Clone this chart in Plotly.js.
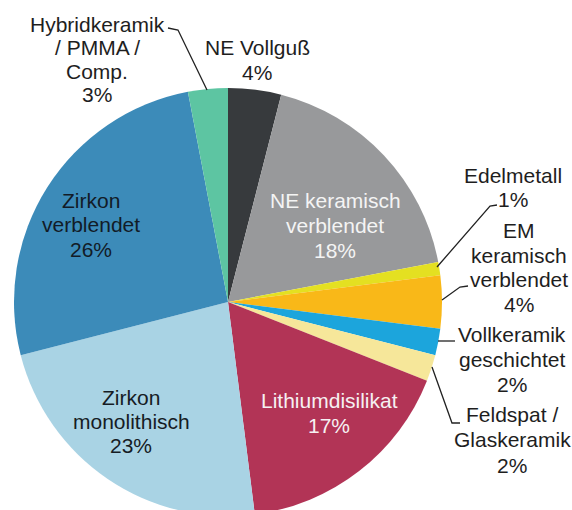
<!DOCTYPE html>
<html>
<head>
<meta charset="utf-8">
<script src="https://cdn.plot.ly/plotly-3.0.1.min.js"></script>
<style>
html,body{margin:0;padding:0;background:#fff;overflow:hidden;}
#chart{width:572px;height:520px;}
</style>
</head>
<body>
<div id="chart"></div>
<script>
// ---- data ----
var categories = [
  "NE Vollguß",
  "NE keramisch<br>verblendet",
  "Edelmetall",
  "EM<br>keramisch<br>verblendet",
  "Vollkeramik<br>geschichtet",
  "Feldspat /<br>Glaskeramik",
  "Lithiumdisilikat",
  "Zirkon<br>monolithisch",
  "Zirkon<br>verblendet",
  "Hybridkeramik<br>/ PMMA /<br>Comp."
];
var shares = [4, 18, 1, 4, 2, 2, 17, 23, 26, 3];
var sliceColors = ["#373a3d", "#98999b", "#e4e021", "#f9b818", "#1ca5dc",
                   "#f6e79a", "#b23456", "#a9d3e4", "#3c8bb9", "#5dc5a2"];

// ---- layout helpers (pixel -> paper) ----
var W = 572, H = 520;
function px(x){ return x / W; }
function py(y){ return 1 - y / H; }

// label placement: centre x, first baseline y, line step (pixels)
var labelX     = [257, 335, 513, 519, 512, 512, 329, 131, 91, 97];
var labelBase  = [55, 208, 183, 238, 342, 422, 408, 405, 208, 32];
var labelStep  = [25, 25, 24, 24.7, 25, 25.5, 25, 24, 24.5, 23.3];
var labelColor = ["#1e1e1e", "#f4f4f4", "#1e1e1e", "#1e1e1e", "#1e1e1e",
                  "#1e1e1e", "#f6f0f2", "#161c24", "#121b27", "#1e1e1e"];
var FS = 21;

var annotations = [];
categories.forEach(function(c, i){
  var lines = c.split("<br>").concat([shares[i] + "%"]);
  lines.forEach(function(t, k){
    var base = labelBase[i] + k * labelStep[i];
    annotations.push({
      xref: "paper", yref: "paper",
      x: px(labelX[i]), y: py(base - 0.36 * FS),
      xanchor: "center", yanchor: "middle",
      text: t, showarrow: false,
      font: {family: "Liberation Sans, Arial, sans-serif", size: FS, color: labelColor[i]}
    });
  });
});

// leader lines (pixel paths)
var leaders = [
  [[168, 28], [178, 30], [207, 90]],          // Hybridkeramik
  [[497, 205], [490, 206], [437, 267]],       // Edelmetall
  [[468, 286], [460, 287], [442, 300]],       // EM keramisch
  [[438, 341], [455, 341]],                   // Vollkeramik
  [[432, 367], [452, 423], [460, 423]]        // Feldspat
];
var shapes = leaders.map(function(pts){
  var d = pts.map(function(p, k){
    return (k === 0 ? "M" : "L") + px(p[0]) + "," + py(p[1]);
  }).join(" ");
  return {type: "path", xref: "paper", yref: "paper", path: d,
          line: {color: "#222", width: 1.3}};
});

var trace = {
  type: "pie",
  labels: categories,
  values: shares,
  sort: false,
  direction: "clockwise",
  rotation: 0,
  textinfo: "none",
  hoverinfo: "label+percent",
  marker: {colors: sliceColors, line: {width: 0}},
  domain: {x: [px(14), px(442)], y: [py(516), py(88)]}
};

var layout = {
  width: W, height: H,
  margin: {l: 0, r: 0, t: 0, b: 0},
  paper_bgcolor: "#fff",
  showlegend: false,
  annotations: annotations,
  shapes: shapes
};

Plotly.newPlot("chart", [trace], layout, {displayModeBar: false, staticPlot: true});
</script>
</body>
</html>
